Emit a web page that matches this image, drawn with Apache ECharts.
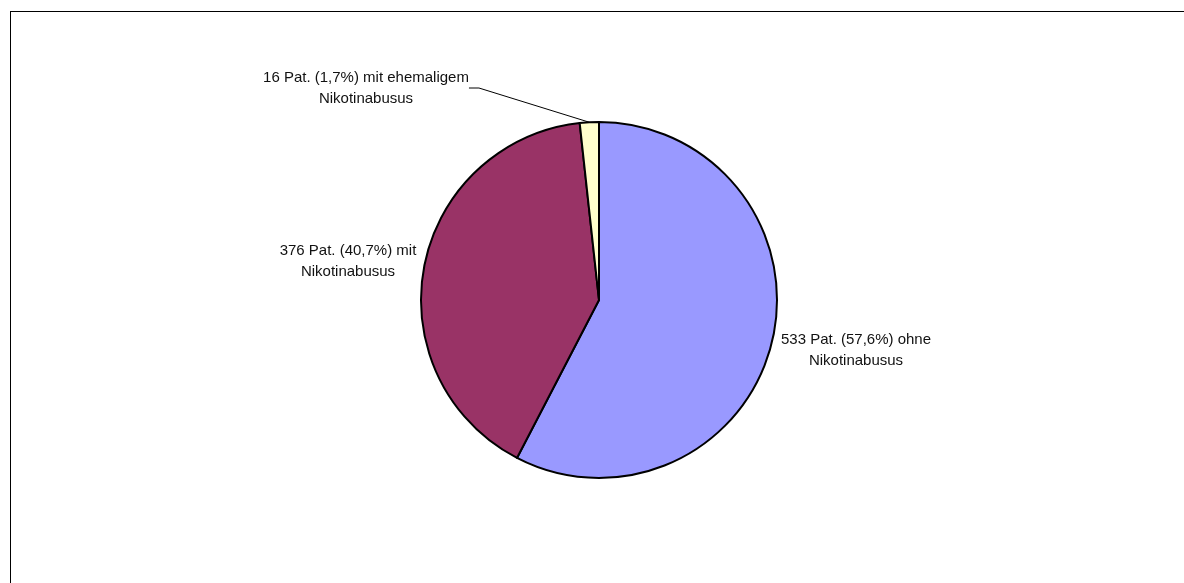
<!DOCTYPE html>
<html>
<head>
<meta charset="utf-8">
<script src="https://cdn.jsdelivr.net/npm/echarts@6/dist/echarts.min.js"></script>
<style>
  html, body { margin: 0; padding: 0; width: 1184px; height: 583px; overflow: hidden; background: #fff; }
  #frame { position: absolute; left: 10px; top: 11px; width: 1300px; height: 700px; border: 1px solid #000; box-sizing: border-box; }
  #chart { position: absolute; left: 0; top: 0; width: 1184px; height: 583px; }
</style>
</head>
<body>
<div id="frame"></div>
<div id="chart"></div>
<script>
// Patients by smoking status
const patients = [533, 376, 16];
const qualifiers = ['ohne', 'mit', 'mit ehemaligem'];
const subject = 'Nikotinabusus';
const sliceColors = ['#9999FF', '#993366', '#FFFFCC'];
// label anchor centres (px) for each slice
const labelSpots = [[856, 350], [348, 261], [366, 88]];

const data = patients.map((v, i) => ({
  value: v,
  name: qualifiers[i],
  itemStyle: { color: sliceColors[i] },
  labelLine: { show: i === 2 }
}));

const chart = echarts.init(document.getElementById('chart'), null, { renderer: 'canvas' });
chart.setOption({
  backgroundColor: 'transparent',
  animation: false,
  series: [{
    type: 'pie',
    center: [599, 300],
    radius: [0, 178],
    startAngle: 90,
    clockwise: true,
    percentPrecision: 1,
    itemStyle: { borderColor: '#000', borderWidth: 2 },
    emphasis: { disabled: true },
    label: {
      show: true,
      position: 'outside',
      color: '#111',
      fontFamily: 'Liberation Sans, Arial, sans-serif',
      fontSize: 15,
      lineHeight: 21,
      align: 'center',
      formatter: p => p.value + ' Pat. (' + p.percent.toFixed(1).replace('.', ',') + '%) ' + p.name + '\n' + subject
    },
    labelLine: {
      length: 10,
      length2: 10,
      lineStyle: { color: '#000', width: 1 }
    },
    labelLayout: p => ({
      x: labelSpots[p.dataIndex][0],
      y: labelSpots[p.dataIndex][1],
      align: 'center',
      verticalAlign: 'middle'
    }),
    data: data
  }]
});
</script>
</body>
</html>
